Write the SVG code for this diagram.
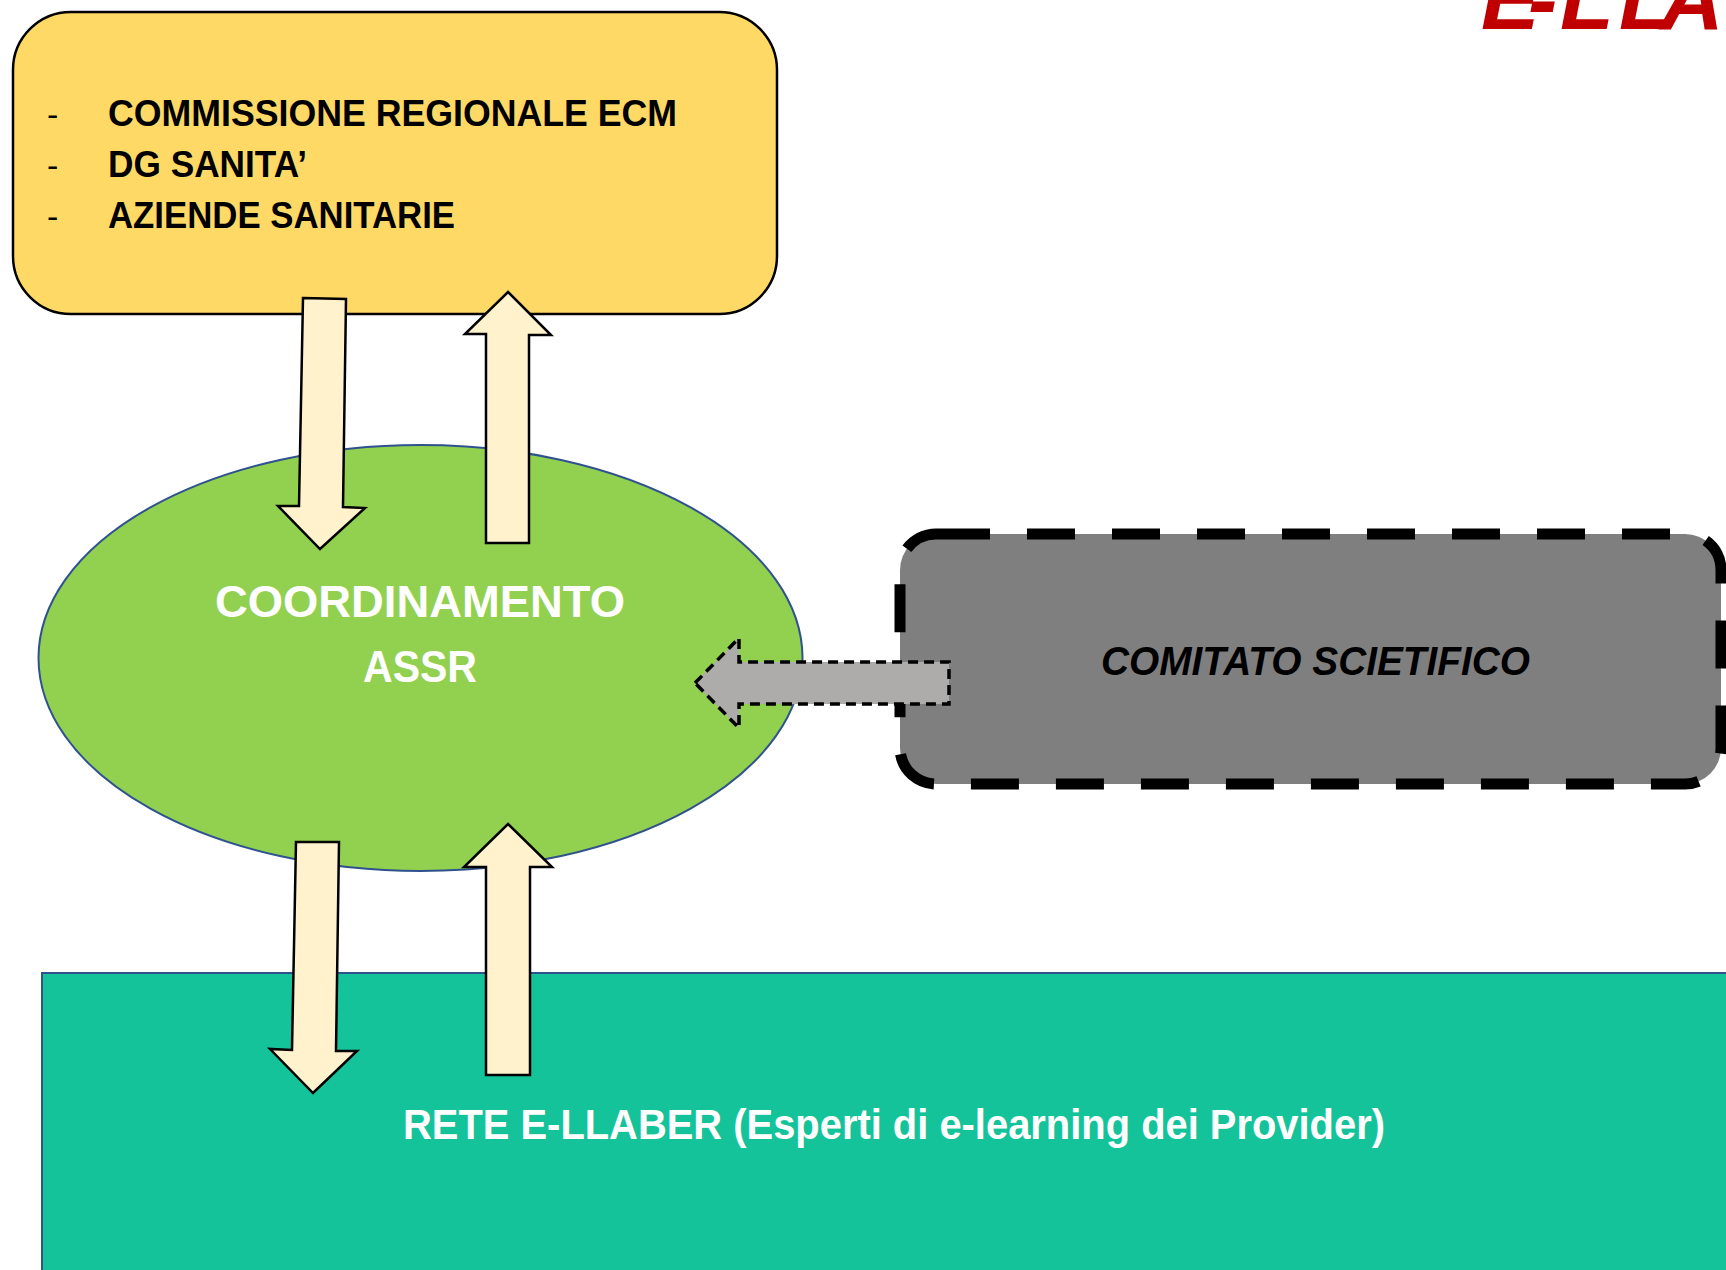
<svg xmlns="http://www.w3.org/2000/svg" width="1726" height="1270" viewBox="0 0 1726 1270">
<style>
.t{font-family:"Liberation Sans",Arial,sans-serif;font-weight:bold}
.blk{fill:#000}
.wht{fill:#fff}
.flow{fill:#FFF2CC;stroke:#000;stroke-width:2.5;stroke-linejoin:miter}
</style>
<rect width="1726" height="1270" fill="#fff"/>
<g id="title">
<text class="t" x="1481 1528 1560 1619 1660 1725 1790 1855" y="29" font-size="88" font-style="italic" fill="#C00000">E-LLABER</text>
</g>
<g id="n-enti">
<rect x="13" y="12" width="764" height="302" rx="58" ry="58" fill="#FFD966" stroke="#000" stroke-width="2.5"/>
<text class="blk" x="47" y="126" font-family="Liberation Sans,Arial,sans-serif" font-size="34">-</text>
<text class="blk" x="47" y="177" font-family="Liberation Sans,Arial,sans-serif" font-size="34">-</text>
<text class="blk" x="47" y="228" font-family="Liberation Sans,Arial,sans-serif" font-size="34">-</text>
<text class="t blk" x="108" y="126" font-size="36" textLength="569" lengthAdjust="spacingAndGlyphs">COMMISSIONE REGIONALE ECM</text>
<text class="t blk" x="108" y="177" font-size="36" textLength="199" lengthAdjust="spacingAndGlyphs">DG SANITA’</text>
<text class="t blk" x="108" y="228" font-size="36" textLength="347" lengthAdjust="spacingAndGlyphs">AZIENDE SANITARIE</text>
</g>
<g id="n-assr">
<ellipse cx="420.5" cy="658" rx="382" ry="213" fill="#92D050" stroke="#2F528F" stroke-width="2"/>
<text class="t wht" x="215" y="617" font-size="45" textLength="410" lengthAdjust="spacingAndGlyphs">COORDINAMENTO</text>
<text class="t wht" x="363" y="682" font-size="45" textLength="114" lengthAdjust="spacingAndGlyphs">ASSR</text>
</g>
<g id="n-comitato">
<rect x="900" y="534" width="821" height="250" rx="36" ry="36" fill="#7F7F7F"/>
<path d="M942,534 H1685 A36,36 0 0 1 1721,570 V748 A36,36 0 0 1 1685,784 H936 A36,36 0 0 1 900,748 V570 A36,36 0 0 1 936,534 Z" fill="none" stroke="#000" stroke-width="11" stroke-dasharray="48 37"/>
<text class="t blk" x="1101" y="675" font-size="40" font-style="italic" textLength="429" lengthAdjust="spacingAndGlyphs">COMITATO SCIETIFICO</text>
</g>
<g id="n-rete">
<rect x="42" y="973" width="1700" height="310" fill="#15C39A" stroke="#2F528F" stroke-width="2"/>
<text class="t wht" x="403" y="1139" font-size="42" textLength="982" lengthAdjust="spacingAndGlyphs">RETE E-LLABER (Esperti di e-learning dei Provider)</text>
</g>
<g id="connectors">
<polygon class="flow" points="303,298 346,299 343,507 365,508 320,549 278,506 299,506"/>
<polygon class="flow" points="508,292 551,335 529,335 529,543 486,543 486,334 465,334"/>
<polygon class="flow" points="296,842 339,842 336,1051 357,1051 313,1093 270,1049 292,1050"/>
<polygon class="flow" points="508,824 552,867 530,867 530,1075 486,1075 486,867 464,867"/>
<polygon points="695,683 739,638 739,662 949,662 949,704 739,704 739,728" fill="#AEABAB" stroke="#000" stroke-width="3.5" stroke-dasharray="10 6"/>
</g>
</svg>
